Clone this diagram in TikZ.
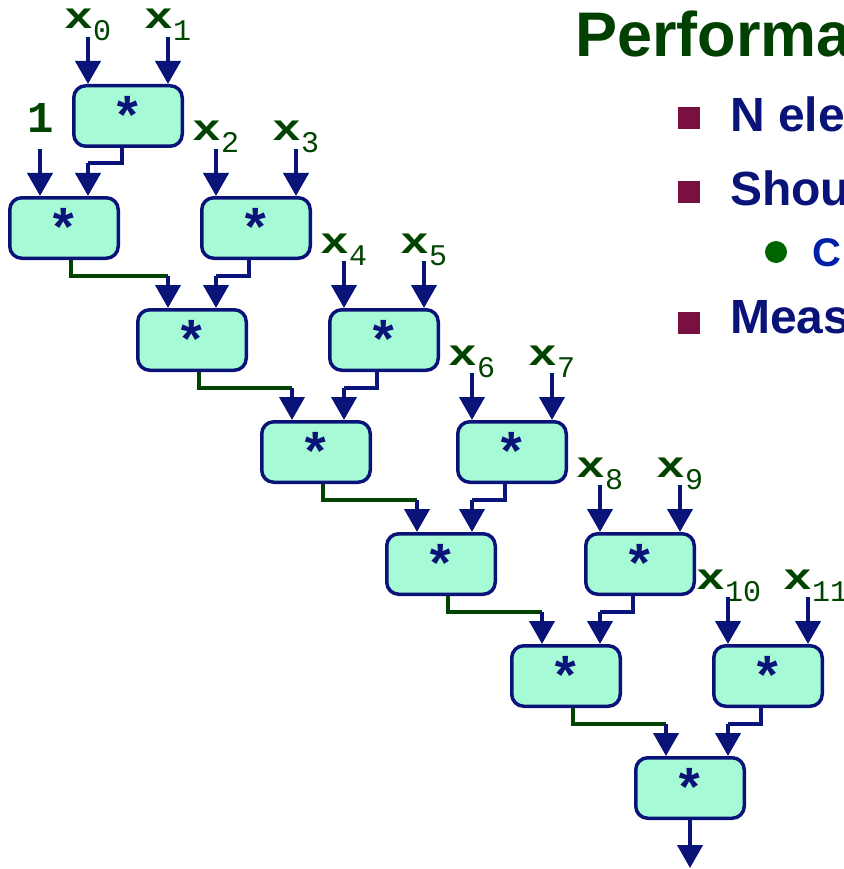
\documentclass[tikz,border=0pt]{standalone}
\usepackage{fontspec}
\setmainfont{Liberation Sans}
\setmonofont{Liberation Mono}
\newfontfamily\xlabfont[FakeStretch=1.3]{Liberation Mono}
\usetikzlibrary{arrows.meta,calc}
\definecolor{navy}{RGB}{10,20,120}
\definecolor{dkgreen}{RGB}{0,68,0}
\definecolor{ttlgreen}{RGB}{0,64,0}
\definecolor{aqua}{RGB}{166,250,214}
\definecolor{bulmaroon}{RGB}{122,16,64}
\definecolor{bulgreen}{RGB}{0,100,0}
\definecolor{subblue}{RGB}{0,32,165}
\tikzset{
  mulbox/.style={draw=navy,line width=3.5pt,fill=aqua,rounded corners=12pt,
    minimum width=108.5pt,minimum height=60.5pt,inner sep=0pt,text=navy,
    font=\fontsize{54}{54}\selectfont\ttfamily\bfseries},
  arr/.style={draw=navy,line width=4pt,-{Triangle[length=23pt,width=25pt]}},
  gconn/.style={draw=dkgreen,line width=3.3pt},
  bconn/.style={draw=navy,line width=3.3pt},
  xlab/.style={anchor=base west,inner sep=0pt,text=dkgreen},
  bulsq/.style={fill=bulmaroon,minimum size=22pt,inner sep=0pt},
  bultxt/.style={anchor=base west,inner sep=0pt,text=navy,font=\fontsize{48}{48}\selectfont\bfseries},
}
\newcommand{\xlabtext}[1]{{\fontsize{37}{37}\selectfont\xlabfont\bfseries x}\kern0pt{\fontsize{30}{30}\selectfont\ttfamily\raisebox{-12pt}{#1}}}
\begin{document}
\begin{tikzpicture}[x=1pt,y=-1pt]
\useasboundingbox (0,0) rectangle (843,869);
\clip (0,0) rectangle (843,869);
% boxes
\node[mulbox] (R0) at (128,116) {*};
\node[mulbox] (R1) at (256,228) {*};
\node[mulbox] (R2) at (384,340) {*};
\node[mulbox] (R3) at (512,452) {*};
\node[mulbox] (R4) at (640,564) {*};
\node[mulbox] (R5) at (768,676) {*};
\node[mulbox] (L0) at (64,228) {*};
\node[mulbox] (L1) at (192,340) {*};
\node[mulbox] (L2) at (316,452) {*};
\node[mulbox] (L3) at (441,564) {*};
\node[mulbox] (L4) at (566,676) {*};
\node[mulbox] (L5) at (690,788) {*};
% input labels and arrows
\foreach \k in {0,...,5}{
  \pgfmathtruncatemacro\ia{2*\k}
  \pgfmathtruncatemacro\ib{2*\k+1}
  \pgfmathsetmacro\sa{\ia>9 ? 32 : 24}
  \pgfmathsetmacro\sb{\ib>9 ? 25 : 24}
  \node[xlab] (xa\k) at ($(R\k.north)+(-40-\sa,-55)$) {\xlabtext{\ia}};
  \node[xlab] (xb\k) at ($(R\k.north)+(40-\sb,-55)$) {\xlabtext{\ib}};
  \coordinate (ia\k) at ($(R\k.north)+(-40,-47)$);
  \coordinate (ib\k) at ($(R\k.north)+(40,-47)$);
  \draw[arr] (ia\k) -- ($(R\k.north)+(-40,0)$);
  \draw[arr] (ib\k) -- ($(R\k.north)+(40,0)$);
}
% constant 1
\node[anchor=base,inner sep=0pt,text=dkgreen,font=\fontsize{44}{44}\selectfont\ttfamily\bfseries] (one) at (41,133) {1};
\coordinate (onein) at ($(L0.north)+(-24,-47)$);
\draw[arr] (onein) -- ($(L0.north)+(-24,0)$);
% R0 -> L0
\coordinate (h0) at ($(R0.south)+(0,15)$);
\coordinate (L0b) at ($(L0.north -| R0.south)+(-40,0)$);
\draw[bconn] ($(R0.south)+(-6,0)$) -- ($(R0.south)+(-6,15)$) -- (h0 -| L0b);
\draw[arr] (h0 -| L0b) -- (L0b);
% chain
\foreach \k/\j in {1/0,2/1,3/2,4/3,5/4}{
  \coordinate (La\k) at ($(L\k.north)+(-24,0)$);
  \coordinate (Lb\k) at ($(L\k.north -| R\k.south)+(-40,0)$);
  \coordinate (h\k) at ($(L\j.south)+(0,16)$);
  \draw[gconn] ($(L\j.south)+(7,0)$) -- ($(L\j.south)+(7,16)$) -- (h\k -| La\k);
  \draw[arr] (h\k -| La\k) -- (La\k);
  \draw[bconn] ($(R\k.south)+(-7,0)$) -- ($(R\k.south)+(-7,16)$) -- (h\k -| Lb\k);
  \draw[arr] (h\k -| Lb\k) -- (Lb\k);
}
% output
\coordinate (out) at (690,868);
\draw[arr] (L5.south) -- (out);
% slide text
\node[anchor=base west,inner sep=0pt,text=ttlgreen,font=\fontsize{63}{63}\selectfont\bfseries] (title) at (575,57) {Performa};
\node[bulsq] (b1) at (689,118) {};
\node[bultxt] (t1) at (730,132) {N ele};
\node[bulsq] (b2) at (689,192) {};
\node[bultxt] (t2) at (730,205) {Shou};
\node[circle,fill=bulgreen,minimum size=22pt,inner sep=0pt] (d1) at (776,252) {};
\node[anchor=base west,inner sep=0pt,text=subblue,font=\fontsize{40}{40}\selectfont\bfseries] (t3) at (812,266) {C};
\node[bulsq] (b3) at (689,323) {};
\node[bultxt] (t4) at (730,333) {Meas};
\end{tikzpicture}
\end{document}
